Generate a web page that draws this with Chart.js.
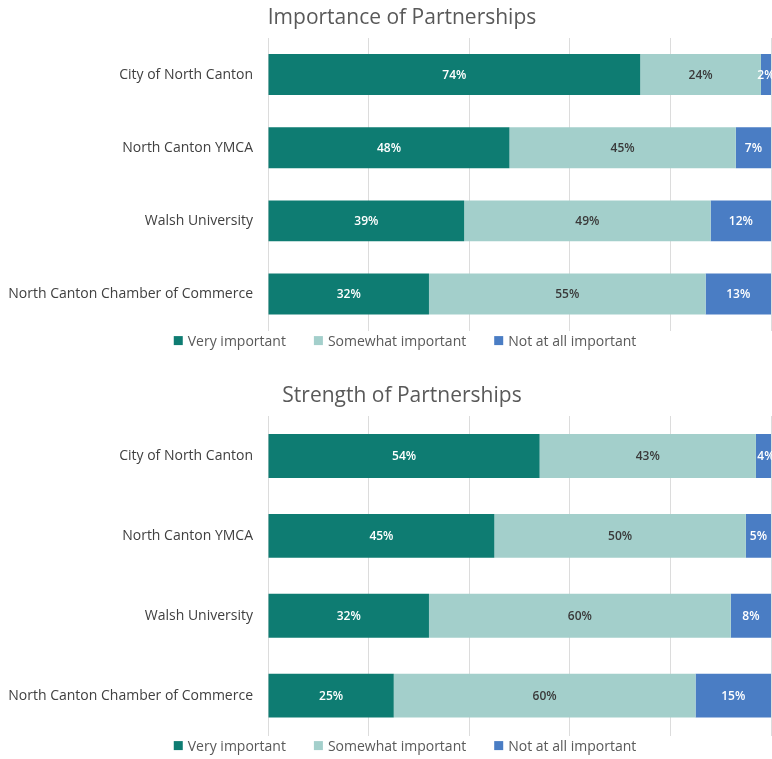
<!DOCTYPE html>
<html>
<head>
<meta charset="utf-8">
<script src="https://cdn.jsdelivr.net/npm/chart.js@4.4.1/dist/chart.umd.min.js"></script>
<style>
  html, body { margin: 0; padding: 0; background: #fff; }
  .box { position: absolute; left: 0; width: 772px; }
  #top-box { top: 0; height: 354px; }
  #bottom-box { top: 378px; height: 381px; }
</style>
</head>
<body>
<div class="box" id="top-box"><canvas id="importance-chart"></canvas></div>
<div class="box" id="bottom-box"><canvas id="strength-chart"></canvas></div>
<script>
// Partners shown on both charts
const partners = ['City of North Canton', 'North Canton YMCA', 'Walsh University', 'North Canton Chamber of Commerce'];
const seriesNames = ['Very important', 'Somewhat important', 'Not at all important'];

// Importance of Partnerships (%)
const importanceVery = [74, 48, 39, 32];
const importanceSomewhat = [24, 45, 49, 55];
const importanceNot = [2, 7, 12, 13];

// Strength of Partnerships (%)
const strengthVery = [54, 45, 32, 25];
const strengthSomewhat = [43, 50, 60, 60];
const strengthNot = [4, 5, 8, 15];

const xTicks = [0, 20, 40, 60, 80, 100];

const colours = ['#0e7c72', '#a3cfcb', '#4a7dc4'];
const labelColours = ['#ffffff', '#3a3a3a', '#ffffff'];
const fontFamily = "'Open Sans', 'Noto Sans', sans-serif";

// Draws the percentage inside each bar segment
const barLabels = {
  id: 'barLabels',
  afterDatasetsDraw(chart) {
    const ctx = chart.ctx;
    ctx.save();
    ctx.font = '600 12px ' + fontFamily;
    ctx.textAlign = 'center';
    ctx.textBaseline = 'middle';
    chart.data.datasets.forEach((ds, i) => {
      const meta = chart.getDatasetMeta(i);
      meta.data.forEach((bar, j) => {
        ctx.fillStyle = labelColours[i];
        ctx.fillText(ds.data[j] + '%', (bar.x + bar.base) / 2, bar.y + 1);
      });
    });
    ctx.restore();
  }
};

// Title and legend are drawn here so they can sit a bit right of centre,
// like the original, without squeezing the long category label
const titleAndLegend = {
  id: 'titleAndLegend',
  afterDraw(chart, args, opts) {
    const ctx = chart.ctx;
    const centreX = 402;
    ctx.save();
    ctx.font = '21px ' + fontFamily;
    ctx.fillStyle = '#595959';
    ctx.textAlign = 'center';
    ctx.textBaseline = 'middle';
    ctx.fillText(opts.text, centreX, 18);

    const box = 9, gapText = 5, gapItem = 28;
    ctx.font = '14px ' + fontFamily;
    ctx.textAlign = 'left';
    const items = chart.data.datasets.map((ds) => ({
      text: ds.label,
      colour: ds.backgroundColor,
      w: box + gapText + ctx.measureText(ds.label).width,
    }));
    const total = items.reduce((s, it) => s + it.w, 0) + gapItem * (items.length - 1);
    let x = 405 - total / 2;
    const y = chart.chartArea.bottom + 10;
    items.forEach((it) => {
      ctx.fillStyle = it.colour;
      ctx.fillRect(x, y - box / 2, box, box);
      ctx.fillStyle = '#595959';
      ctx.fillText(it.text, x + box + gapText, y + 1);
      x += it.w + gapItem;
    });
    ctx.restore();
  }
};

function makeChart(canvasId, title, very, somewhat, notAt, barPct) {
  const values = [very, somewhat, notAt];
  return new Chart(document.getElementById(canvasId).getContext('2d'), {
    type: 'bar',
    data: {
      labels: partners,
      datasets: seriesNames.map((name, i) => ({
        label: name,
        data: values[i],
        backgroundColor: colours[i],
        borderWidth: 0,
        barPercentage: barPct,
        categoryPercentage: 1,
      })),
    },
    options: {
      indexAxis: 'y',
      responsive: true,
      maintainAspectRatio: false,
      animation: false,
      layout: { padding: { left: 0, right: 1, top: 38, bottom: 22 } },
      scales: {
        x: {
          stacked: true,
          min: 0,
          max: 100,
          afterBuildTicks(axis) { axis.ticks = xTicks.map((v) => ({ value: v })); },
          ticks: { display: false },
          grid: { color: '#dcdcdc', lineWidth: 1, drawTicks: false },
          border: { display: false },
        },
        y: {
          stacked: true,
          grid: { display: false, drawTicks: false },
          border: { display: false },
          afterFit(axis) { axis.width = 268; },
          ticks: { color: '#404040', padding: 15, font: { family: fontFamily, size: 14 } },
        },
      },
      plugins: {
        title: { display: false },
        legend: { display: false },
        tooltip: { enabled: false },
        titleAndLegend: { text: title },
      },
    },
    plugins: [barLabels, titleAndLegend],
  });
}

makeChart('importance-chart', 'Importance of Partnerships', importanceVery, importanceSomewhat, importanceNot, 0.56);
makeChart('strength-chart', 'Strength of Partnerships', strengthVery, strengthSomewhat, strengthNot, 0.55);
</script>
</body>
</html>
